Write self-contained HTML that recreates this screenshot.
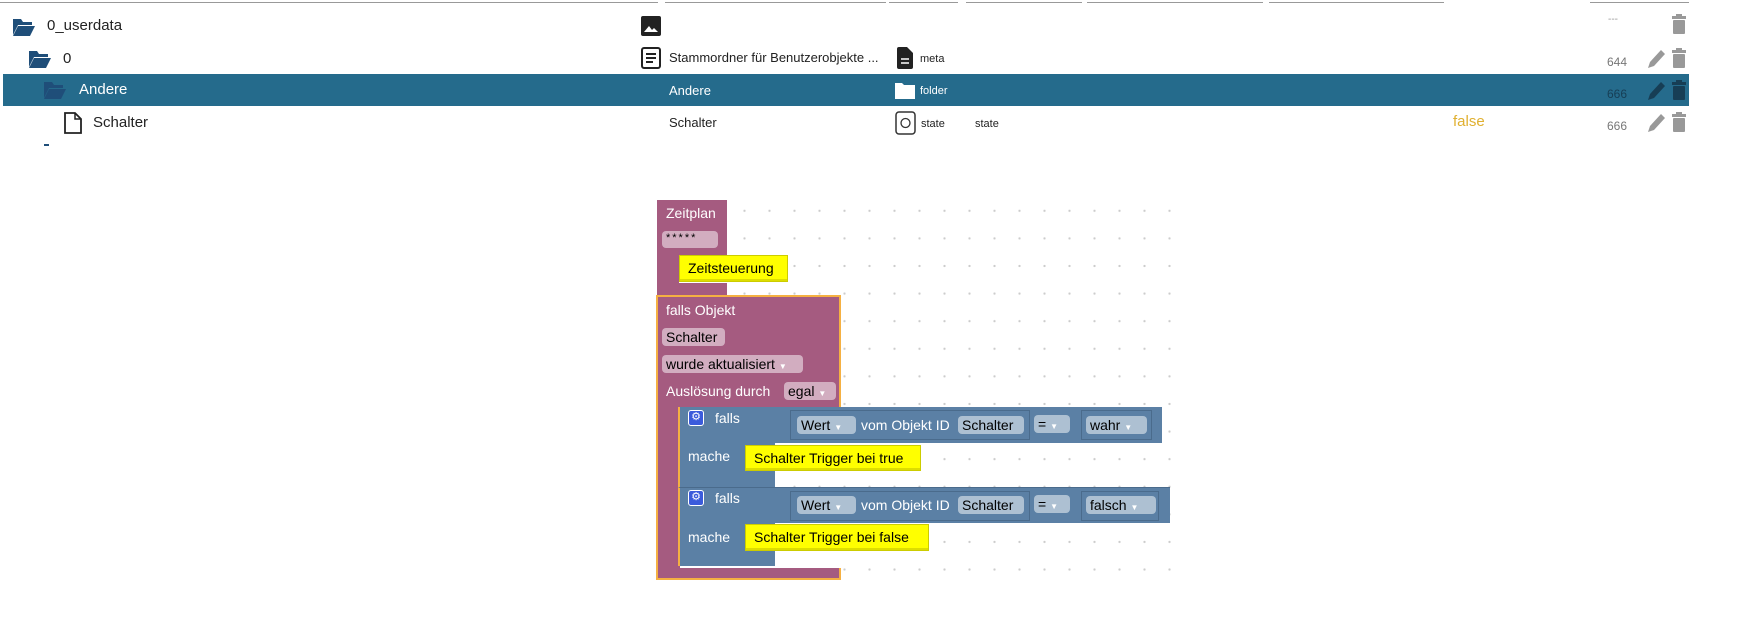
<!DOCTYPE html>
<html><head><meta charset="utf-8"><style>
*{margin:0;padding:0;box-sizing:border-box}
body{width:1758px;height:628px;background:#fff;position:relative;overflow:hidden;font-family:"Liberation Sans",sans-serif;}
.a{position:absolute}
.t{position:absolute;font-size:14px;color:#222;white-space:nowrap;line-height:16px}
.s{font-size:11px}
.hl{position:absolute;top:2px;height:1px;background:#999}
.p{background:#a55b80}
.b{background:#5b80a5}
.w{position:absolute;color:#fff;font-size:14px;line-height:16px;white-space:nowrap}
.f{position:absolute;border-radius:4px;font-size:14px;line-height:18px;color:#000;padding-left:4px;white-space:nowrap}
.fp{background:#d2adc0}
.fb{background:#adc0d2}
.y{position:absolute;background:#ffff00;border:1px solid #cc0;font-size:14px;color:#000;padding-left:8px;white-space:nowrap;box-shadow:inset 0 -2px 0 #dd0}
.dots{position:absolute;left:665px;top:197px;width:525px;height:390px;background-image:radial-gradient(circle,#ccc 1px,transparent 1.3px);background-size:25px 27.6px;background-position:-5px 0}
#bl{position:absolute;left:-3px;top:0;width:1758px;height:628px}
</style></head><body>
<div class="hl" style="left:0;width:658px"></div>
<div class="hl" style="left:665px;width:221px"></div>
<div class="hl" style="left:889px;width:69px"></div>
<div class="hl" style="left:966px;width:116px"></div>
<div class="hl" style="left:1087px;width:176px"></div>
<div class="hl" style="left:1269px;width:175px"></div>
<div class="hl" style="left:1590px;width:99px"></div>

<div class="a" style="left:3px;top:74px;width:1686px;height:32px;background:#256b8c"></div>

<!-- row 1 -->
<svg class="a" style="left:12px;top:17px" width="24" height="20"><path d="M1 2h8l2 3h9v3H6L1 18z" fill="#1f4e79"/><path d="M6 9h17l-5 10H1z" fill="#1f4e79"/></svg>
<div class="t" style="left:47px;top:18px;font-size:15px">0_userdata</div>
<svg class="a" style="left:640px;top:15px" width="22" height="22"><rect x="1" y="1" width="20" height="20" rx="2" fill="#222"/><path d="M4 17l5-6 3 4 2-2 4 4z" fill="#fff"/></svg>
<div class="t" style="left:1608px;top:12px;color:#999;font-size:10px">---</div>
<svg class="a" style="left:1672px;top:14px" width="14" height="20"><rect x="0" y="2" width="14" height="3" fill="#999"/><rect x="4" y="0" width="6" height="3" fill="#999"/><rect x="1" y="6" width="12" height="14" rx="1" fill="#999"/></svg>

<!-- row 2 -->
<svg class="a" style="left:28px;top:49px" width="24" height="20"><path d="M1 2h8l2 3h9v3H6L1 18z" fill="#1f4e79"/><path d="M6 9h17l-5 10H1z" fill="#1f4e79"/></svg>
<div class="t" style="left:63px;top:51px;font-size:15px">0</div>
<svg class="a" style="left:640px;top:46px" width="22" height="24"><rect x="2" y="2" width="18" height="20" rx="2" fill="none" stroke="#222" stroke-width="2"/><path d="M6 8h10M6 12h10M6 16h7" stroke="#222" stroke-width="2"/></svg>
<div class="t" style="left:669px;top:50px;font-size:13px">Stammordner für Benutzerobjekte ...</div>
<svg class="a" style="left:897px;top:47px" width="16" height="22"><path d="M0 2q0-2 2-2h8l6 6v14q0 2-2 2H2q-2 0-2-2z" fill="#222"/><path d="M4 12h8M4 16h8" stroke="#fff" stroke-width="1.5"/></svg>
<div class="t s" style="left:920px;top:51px">meta</div>
<div class="t" style="left:1607px;top:54px;color:#777;font-size:12px">644</div>
<svg class="a" style="left:1646px;top:48px" width="20" height="22"><path d="M2 20l2-6L15 2l4 4L8 18z" fill="#999"/></svg>
<svg class="a" style="left:1672px;top:48px" width="14" height="20"><rect x="0" y="2" width="14" height="3" fill="#999"/><rect x="4" y="0" width="6" height="3" fill="#999"/><rect x="1" y="6" width="12" height="14" rx="1" fill="#999"/></svg>

<!-- row 3 selected -->
<svg class="a" style="left:43px;top:80px" width="24" height="20"><path d="M1 2h8l2 3h9v3H6L1 18z" fill="#1f4e79"/><path d="M6 9h17l-5 10H1z" fill="#1f4e79"/></svg>
<div class="t" style="left:79px;top:82px;color:#fff;font-size:15px">Andere</div>
<div class="t" style="left:669px;top:83px;color:#fff;font-size:13px">Andere</div>
<svg class="a" style="left:895px;top:81px" width="20" height="18"><path d="M0 2h7l2 2h11v14H0z" fill="#fff"/></svg>
<div class="t s" style="left:920px;top:83px;color:#fff">folder</div>
<div class="t" style="left:1607px;top:86px;color:#173e55;font-size:12px">666</div>
<svg class="a" style="left:1646px;top:80px" width="20" height="22"><path d="M2 20l2-6L15 2l4 4L8 18z" fill="#173e55"/></svg>
<svg class="a" style="left:1672px;top:80px" width="14" height="20"><rect x="0" y="2" width="14" height="3" fill="#173e55"/><rect x="4" y="0" width="6" height="3" fill="#173e55"/><rect x="1" y="6" width="12" height="14" rx="1" fill="#173e55"/></svg>

<!-- row 4 -->
<svg class="a" style="left:64px;top:112px" width="18" height="22"><path d="M1 1h10l6 6v14H1z" fill="none" stroke="#222" stroke-width="1.8"/><path d="M11 1v6h6" fill="none" stroke="#222" stroke-width="1.5"/></svg>
<div class="t" style="left:93px;top:115px;font-size:15px">Schalter</div>
<div class="t" style="left:669px;top:115px;font-size:13px">Schalter</div>
<svg class="a" style="left:895px;top:111px" width="22" height="24"><rect x="1" y="1" width="19" height="22" rx="3" fill="none" stroke="#333" stroke-width="1.5"/><circle cx="10.5" cy="12" r="4.5" fill="none" stroke="#333" stroke-width="1.3"/></svg>
<div class="t s" style="left:921px;top:116px">state</div>
<div class="t s" style="left:975px;top:116px">state</div>
<div class="t" style="left:1453px;top:114px;color:#e0b030;font-size:15px">false</div>
<div class="t" style="left:1607px;top:118px;color:#777;font-size:12px">666</div>
<svg class="a" style="left:1646px;top:112px" width="20" height="22"><path d="M2 20l2-6L15 2l4 4L8 18z" fill="#999"/></svg>
<svg class="a" style="left:1672px;top:112px" width="14" height="20"><rect x="0" y="2" width="14" height="3" fill="#999"/><rect x="4" y="0" width="6" height="3" fill="#999"/><rect x="1" y="6" width="12" height="14" rx="1" fill="#999"/></svg>
<div class="a" style="left:44px;top:144px;width:5px;height:2px;background:#1f4e79"></div>

<div id="bl">
<div class="dots"></div>

<!-- Zeitplan block -->
<div class="a p" style="left:660px;top:200px;width:70px;height:55px"></div>
<div class="a p" style="left:660px;top:255px;width:22px;height:42px"></div>
<div class="a p" style="left:660px;top:283px;width:70px;height:13px"></div>
<div class="w" style="left:669px;top:205px">Zeitplan</div>
<div class="f fp" style="left:665px;top:231px;width:56px;height:17px;font-size:11px;line-height:15px;letter-spacing:2px">*****</div>
<div class="y" style="left:682px;top:255px;width:109px;height:27px;line-height:25px">Zeitsteuerung</div>

<!-- falls Objekt block -->
<div class="a" style="left:659px;top:295px;width:185px;height:114px;border:2px solid #f5b042;border-bottom:none;background:#a55b80"></div>
<div class="a p" style="left:659px;top:407px;width:24px;height:170px;border-left:2px solid #f5b042"></div>
<div class="a" style="left:659px;top:568px;width:185px;height:12px;background:#a55b80;border:2px solid #f5b042;border-top:none"></div>
<div class="w" style="left:669px;top:302px">falls Objekt</div>
<div class="f fp" style="left:665px;top:328px;width:63px;height:18px">Schalter</div>
<div class="f fp" style="left:665px;top:355px;width:141px;height:18px">wurde aktualisiert <span style="font-size:8px;color:#fff">▼</span></div>
<div class="w" style="left:669px;top:383px">Auslösung durch</div>
<div class="f fp" style="left:787px;top:382px;width:52px;height:18px">egal <span style="font-size:8px;color:#fff">▼</span></div>

<!-- if block 1 -->
<div class="a b" style="left:681px;top:407px;width:484px;height:36px;border-left:2px solid #f5b042"></div>
<div class="a b" style="left:681px;top:443px;width:97px;height:44px;border-left:2px solid #f5b042"></div>
<div class="a" style="left:793px;top:410px;width:240px;height:30px;border:1px solid #4a6b8c"></div>
<div class="a" style="left:1084px;top:410px;width:71px;height:30px;border:1px solid #4a6b8c"></div>
<div class="a" style="left:691px;top:410px;width:16px;height:16px;background:#3b5bdb;border-radius:3px;border:1px solid #fff;color:#fff;font-size:11px;line-height:13px;text-align:center">⚙</div>
<div class="w" style="left:718px;top:410px">falls</div>
<div class="f fb" style="left:800px;top:416px;width:59px;height:18px">Wert <span style="font-size:8px;color:#fff">▼</span></div>
<div class="w" style="left:864px;top:417px">vom Objekt ID</div>
<div class="f fb" style="left:961px;top:416px;width:66px;height:18px">Schalter</div>
<div class="f fb" style="left:1037px;top:415px;width:36px;height:18px">= <span style="font-size:8px;color:#fff">▼</span></div>
<div class="f fb" style="left:1089px;top:416px;width:61px;height:18px">wahr <span style="font-size:8px;color:#fff">▼</span></div>
<div class="w" style="left:691px;top:448px">mache</div>
<div class="y" style="left:748px;top:445px;width:176px;height:26px;line-height:24px">Schalter Trigger bei true</div>

<!-- if block 2 -->
<div class="a b" style="left:681px;top:487px;width:492px;height:36px;border-left:2px solid #f5b042;border-top:1px solid #4a6b8c"></div>
<div class="a b" style="left:681px;top:523px;width:97px;height:43px;border-left:2px solid #f5b042"></div>
<div class="a" style="left:793px;top:491px;width:240px;height:30px;border:1px solid #4a6b8c"></div>
<div class="a" style="left:1084px;top:491px;width:78px;height:30px;border:1px solid #4a6b8c"></div>
<div class="a" style="left:691px;top:490px;width:16px;height:16px;background:#3b5bdb;border-radius:3px;border:1px solid #fff;color:#fff;font-size:11px;line-height:13px;text-align:center">⚙</div>
<div class="w" style="left:718px;top:490px">falls</div>
<div class="f fb" style="left:800px;top:496px;width:59px;height:18px">Wert <span style="font-size:8px;color:#fff">▼</span></div>
<div class="w" style="left:864px;top:497px">vom Objekt ID</div>
<div class="f fb" style="left:961px;top:496px;width:66px;height:18px">Schalter</div>
<div class="f fb" style="left:1037px;top:495px;width:36px;height:18px">= <span style="font-size:8px;color:#fff">▼</span></div>
<div class="f fb" style="left:1089px;top:496px;width:70px;height:18px">falsch <span style="font-size:8px;color:#fff">▼</span></div>
<div class="w" style="left:691px;top:529px">mache</div>
<div class="y" style="left:748px;top:524px;width:184px;height:27px;line-height:25px">Schalter Trigger bei false</div>
</div>
</body></html>
